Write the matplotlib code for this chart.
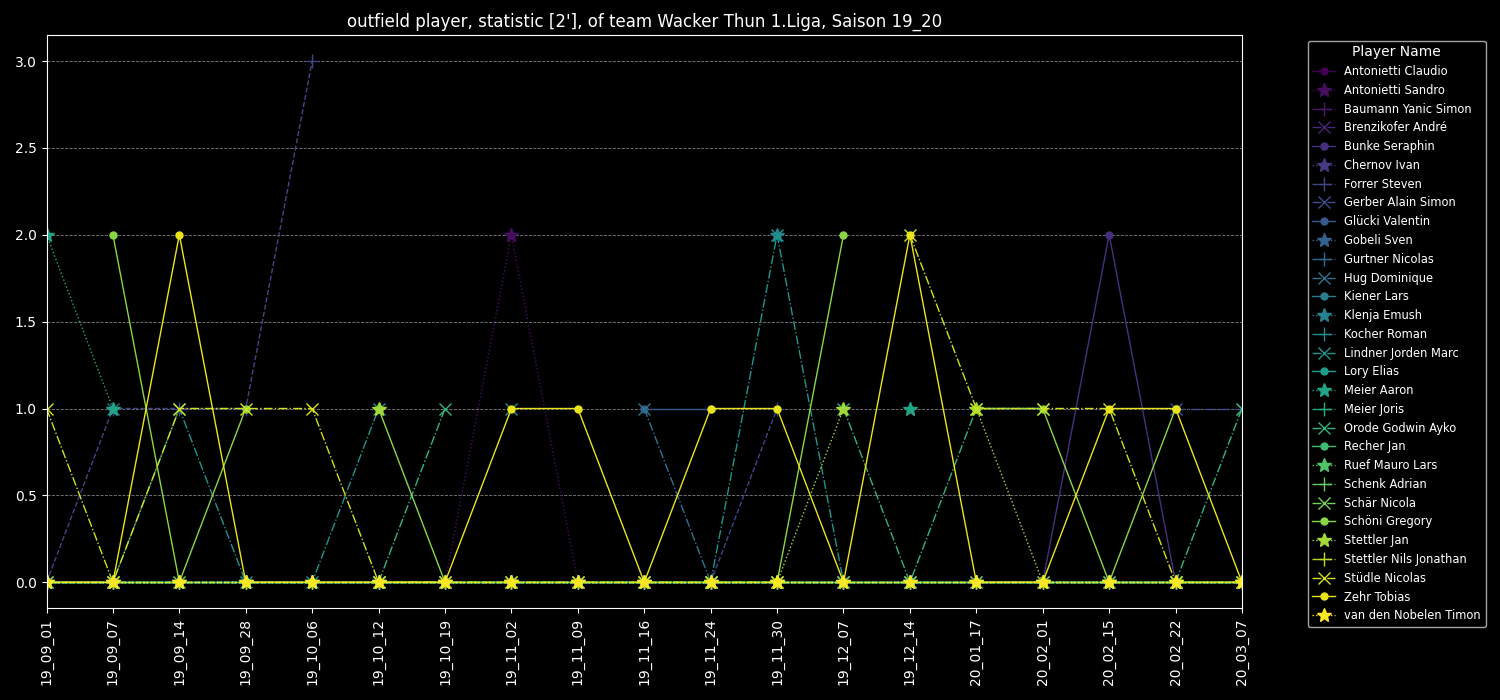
import numpy as np
import matplotlib.pyplot as plt

n = np.nan

dates = ['19_09_01', '19_09_07', '19_09_14', '19_09_28', '19_10_06', '19_10_12',
         '19_10_19', '19_11_02', '19_11_09', '19_11_16', '19_11_24', '19_11_30',
         '19_12_07', '19_12_14', '20_01_17', '20_02_01', '20_02_15', '20_02_22',
         '20_03_07']

players = ['Antonietti Claudio', 'Antonietti Sandro', 'Baumann Yanic Simon',
           'Brenzikofer André', 'Bunke Seraphin', 'Chernov Ivan', 'Forrer Steven',
           'Gerber Alain Simon', 'Glücki Valentin', 'Gobeli Sven', 'Gurtner Nicolas',
           'Hug Dominique', 'Kiener Lars', 'Klenja Emush', 'Kocher Roman',
           'Lindner Jorden Marc', 'Lory Elias', 'Meier Aaron', 'Meier Joris',
           'Orode Godwin Ayko', 'Recher Jan', 'Ruef Mauro Lars', 'Schenk Adrian',
           'Schär Nicola', 'Schöni Gregory', 'Stettler Jan', 'Stettler Nils Jonathan',
           'Stüdle Nicolas', 'Zehr Tobias', 'van den Nobelen Timon']

# values per player, one per match date (nan = did not play)
antonietti_claudio = [0, 0, 0, 0, 0, 0, 0, n, n, n, n, n, n, n, n, n, n, n, n]
antonietti_sandro = [n, n, n, n, n, n, 0, 2, 0, n, n, n, n, n, n, n, n, n, n]
baumann = [0, 0, 0, 0, 0, 0, 0, 0, 0, 0, 0, 0, 0, 0, 0, 0, 0, 0, 0]
brenzikofer = [n, n, n, n, n, n, n, n, n, 0, 0, 0, 0, 0, 0, 0, 0, 0, 0]
bunke = [n, n, n, n, n, n, n, n, n, n, n, n, n, n, n, 0, 2, 0, n]
chernov = [0, 0, 0, 0, 0, 0, 0, 0, 0, 0, 0, n, n, n, n, n, n, n, n]
forrer = [0, 1, 1, 1, 3, n, n, n, n, n, 0, 1, n, n, n, n, n, n, n]
gerber = [n, n, n, n, n, n, n, n, n, n, n, n, n, n, n, n, n, 1, 1]
gluecki = [n, n, n, n, n, n, n, n, n, 1, 1, n, n, n, n, n, n, n, n]
gobeli = [0, 0, 0, 0, 0, 0, 0, 0, 0, 0, 0, 0, 0, 0, 0, 0, 0, 0, 0]
gurtner = [0, 0, 0, 0, 0, 0, 0, 0, 0, 0, 0, 0, 0, n, n, n, n, n, n]
hug = [n, 1, n, n, n, n, n, n, n, 1, 0, n, n, n, n, n, n, n, n]
kiener = [0, 0, 0, 0, 0, 0, 0, 0, 0, 0, 0, 0, 0, 0, 0, 0, 0, 0, 0]
klenja = [n, n, n, n, n, n, 0, 0, 0, 0, n, 2, n, 0, 0, 0, 0, 0, 0]
kocher = [0, 0, 0, 0, 0, 0, 0, 0, 0, 0, 0, 0, 0, 0, 0, 0, 0, 0, 0]
lindner = [0, 0, 1, 0, 0, 1, n, 1, n, n, 0, 2, 0, n, n, n, n, n, n]
lory = [0, 0, 0, 0, 0, 0, 0, 0, 0, 0, 0, 0, 0, 0, 0, 0, 0, 0, 0]
meier_aaron = [2, 1, n, n, n, n, n, n, n, n, n, n, n, 1, n, n, n, n, n]
meier_joris = [0, 0, 0, 0, 0, 0, 0, 0, 0, 0, 0, 0, 0, 0, 0, 0, 0, 0, 0]
orode = [n, n, n, n, n, 0, 1, n, n, n, n, n, 1, 0, 1, 1, n, 0, 1]
recher = [0, 0, 0, 0, 0, 0, 0, 0, 0, 0, 0, 0, 0, 0, 0, 0, 0, 0, 0]
ruef = [0, 0, 0, 0, 0, 0, 0, 0, 0, 0, 0, 0, 0, 0, 0, 0, 0, 0, 0]
schenk = [0, 0, 0, 0, 0, 0, 0, 0, 0, 0, 0, 0, 0, 0, 0, 0, 0, 0, 0]
schaer = [0, 0, 0, n, n, 0, 0, 0, 0, 0, 0, 0, 0, 0, 0, 0, 0, 0, 0]
schoeni = [n, 2, 0, 1, n, 1, 0, n, n, n, n, 0, 2, n, 1, 1, 0, 1, n]
stettler_jan = [n, n, n, n, n, 1, n, n, n, n, n, 0, 1, n, 1, 0, 0, 0, 0]
stettler_nils = [0, 0, 0, 0, 0, 0, 0, 0, 0, 0, 0, 0, 0, 0, 0, 0, 0, 0, 0]
stuedle = [1, 0, 1, 1, 1, 0, 0, 0, 0, 0, 0, 0, n, 2, 1, 1, 1, 0, 0]
zehr = [0, 0, 2, 0, 0, 0, 0, 1, 1, 0, 1, 1, 0, 2, 0, 0, 1, 1, 0]
van_den_nobelen = [0, 0, 0, 0, 0, 0, 0, 0, 0, 0, 0, 0, 0, 0, 0, 0, 0, 0, 0]

values = [antonietti_claudio, antonietti_sandro, baumann, brenzikofer, bunke,
          chernov, forrer, gerber, gluecki, gobeli, gurtner, hug, kiener, klenja,
          kocher, lindner, lory, meier_aaron, meier_joris, orode, recher, ruef,
          schenk, schaer, schoeni, stettler_jan, stettler_nils, stuedle, zehr,
          van_den_nobelen]

markers = ['o', '*', '+', 'x']
msizes = [5, 10, 10, 9]
styles = ['-', ':', '--', '-.']

plt.style.use('dark_background')
fig, ax = plt.subplots(figsize=(15, 7), dpi=100)
fig.subplots_adjust(left=0.031, right=0.828, top=0.95, bottom=0.131)

colors = plt.cm.viridis(np.linspace(0, 1, len(players)))
x = np.arange(len(dates))
for i, (name, vals) in enumerate(zip(players, values)):
    ax.plot(x, vals, marker=markers[i % 4], markersize=msizes[i % 4],
            linestyle=styles[i % 4], color=colors[i], linewidth=1, label=name)

ax.set_xlim(0, len(dates) - 1)
ax.set_ylim(-0.15, 3.15)
ax.set_xticks(x)
ax.set_xticklabels(dates, rotation=90)
ax.grid(axis='y', linestyle='--', color='gray', linewidth=0.6)
ax.set_title("outfield player, statistic [2'], of team Wacker Thun 1.Liga, Saison 19_20")

leg = ax.legend(title='Player Name', loc='upper left', bbox_to_anchor=(1.05, 1.0),
                fontsize=8.3, title_fontsize=10)

fig.savefig('out.png', dpi=100)
